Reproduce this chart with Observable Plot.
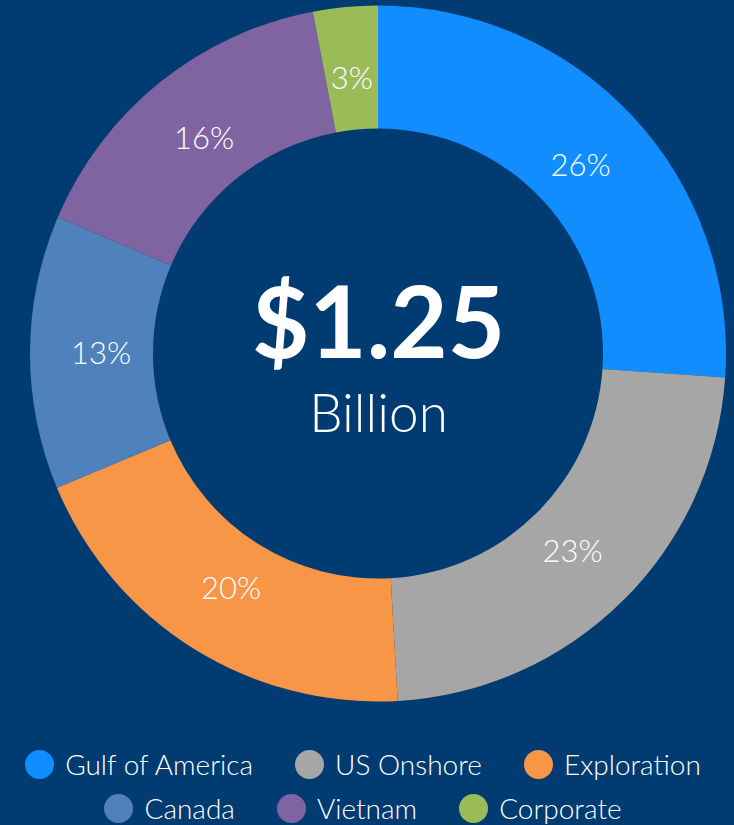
<!DOCTYPE html>
<html>
<head>
<meta charset="utf-8">
<script src="https://cdn.jsdelivr.net/npm/d3@7"></script>
<script src="https://cdn.jsdelivr.net/npm/@observablehq/plot@0.6"></script>
<style>
  html, body { margin: 0; padding: 0; background: #003b71; }
  body { width: 734px; height: 825px; overflow: hidden; font-family: Lato, "Open Sans", sans-serif; }
  #chart svg { display: block; background: #003b71; }
  .legend { width: 734px; padding-top: 20px; margin-left: -4px; }
  .row { display: flex; justify-content: center; column-gap: 42px; height: 44px; align-items: center; }
  .item { display: flex; align-items: center; gap: 11px; color: #ffffff; font-size: 28px; font-weight: 300; line-height: 32px; }
  .sw { width: 29px; height: 29px; border-radius: 50%; flex: none; }
</style>
</head>
<body>
<div id="chart"></div>
<div class="legend" id="legend"></div>
<script>
const categories = ["Gulf of America", "US Onshore", "Exploration", "Canada", "Vietnam", "Corporate"];
const shares = [26.1, 23.0, 19.6, 12.7, 15.6, 3.0];
const shareLabels = ["26%", "23%", "20%", "13%", "16%", "3%"];
const colors = ["#118dff", "#a6a6a6", "#f79646", "#4f81bd", "#8064a2", "#9bbb59"];
const totalLabel = "$1.25";
const unitLabel = "Billion";

const data = categories.map((c, i) => ({category: c, share: shares[i], label: shareLabels[i]}));
const color = Plot.scale({color: {type: "ordinal", domain: categories, range: colors}});

const W = 734, H = 722;
const outerR = 348, innerR = 225, labelR = 277;

function donut(index, scales, values, dim) {
  const cx = dim.marginLeft + (dim.width - dim.marginLeft - dim.marginRight) / 2;
  const cy = dim.marginTop + (dim.height - dim.marginTop - dim.marginBottom) / 2;
  const arcs = d3.pie().sort(null).value(d => d.share)(data);
  const arc = d3.arc().innerRadius(innerR).outerRadius(outerR);
  const labelArc = d3.arc().innerRadius(labelR).outerRadius(labelR);
  const g = d3.create("svg:g").attr("transform", `translate(${cx},${cy})`);
  g.selectAll("path").data(arcs).join("path")
    .attr("d", arc)
    .attr("fill", d => color.apply(d.data.category));
  g.selectAll("text").data(arcs).join("text")
    .attr("transform", d => `translate(${labelArc.centroid(d)})`)
    .attr("text-anchor", "middle")
    .attr("dy", "0.36em")
    .attr("fill", "#ffffff")
    .attr("font-family", "Lato, 'Open Sans', sans-serif")
    .attr("font-weight", 300)
    .attr("font-size", 31)
    .text(d => d.data.label);
  return g.node();
}

const plot = Plot.plot({
  width: W,
  height: H,
  marginLeft: 22,
  marginRight: 0,
  marginTop: 0,
  marginBottom: 15,
  style: {background: "#003b71", fontFamily: "Lato, 'Open Sans', sans-serif"},
  marks: [
    donut,
    Plot.text([totalLabel], {frameAnchor: "middle", lineAnchor: "bottom", dy: 3.5, text: d => d, fill: "#ffffff", fontSize: 99, fontWeight: 700}),
    Plot.text([unitLabel], {frameAnchor: "middle", lineAnchor: "bottom", dy: 77.5, text: d => d, fill: "#ffffff", fontSize: 53, fontWeight: 300})
  ]
});
document.getElementById("chart").appendChild(plot);

const legend = document.getElementById("legend");
const rows = [categories.slice(0, 3), categories.slice(3)];
rows.forEach(r => {
  const row = document.createElement("div");
  row.className = "row";
  r.forEach(c => {
    const item = document.createElement("div");
    item.className = "item";
    const sw = document.createElement("span");
    sw.className = "sw";
    sw.style.background = color.apply(c);
    const t = document.createElement("span");
    t.textContent = c;
    item.appendChild(sw);
    item.appendChild(t);
    row.appendChild(item);
  });
  legend.appendChild(row);
});
</script>
</body>
</html>
